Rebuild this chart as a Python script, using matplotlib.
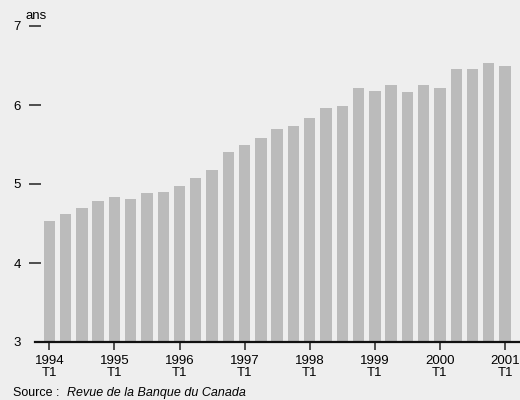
import matplotlib
matplotlib.use("Agg")
import matplotlib.pyplot as plt
import numpy as np

plt.rcParams['font.family'] = ['Liberation Sans', 'DejaVu Sans']

# quarterly values, 1994 T1 .. 2001 T1 (ans)
values = [4.53, 4.62, 4.70, 4.79,
          4.84, 4.81, 4.88, 4.90,
          4.98, 5.07, 5.18, 5.41,
          5.49, 5.58, 5.70, 5.74,
          5.83, 5.96, 5.99, 6.21,
          6.18, 6.25, 6.16, 6.25,
          6.21, 6.45, 6.45, 6.53,
          6.49]
years = ['1994', '1995', '1996', '1997', '1998', '1999', '2000', '2001']
y_ticks = [3, 4, 5, 6, 7]

bg = '#eeeeee'
bar_col = '#bbbbbb'

fig = plt.figure(figsize=(5.2, 4.0), dpi=100, facecolor=bg)
ax = fig.add_axes([35/520, 1 - 342/400, 485/520, (342 - 26)/400])
ax.set_facecolor(bg)

x = np.arange(len(values))
ax.bar(x, values, width=0.7, color=bar_col)

ax.set_ylim(3, 7)
ax.set_xlim(-0.88, 28.92)

for s in ['top', 'right', 'left']:
    ax.spines[s].set_visible(False)
ax.spines['bottom'].set_linewidth(1.6)
ax.spines['bottom'].set_color('#111111')

ax.set_yticks(y_ticks)
ax.set_yticklabels([str(v) for v in y_ticks])
ax.tick_params(axis='y', direction='inout', length=8, width=1.1, color='#222222',
               labelsize=9.5, pad=6)
# no dash at 3 (the base line stands there)
ax.yaxis.get_major_ticks()[0].tick1line.set_visible(False)

ax.set_xticks(x[::4])
ax.set_xticklabels([f'{y}\nT1' for y in years], linespacing=1.05)
ax.tick_params(axis='x', direction='out', length=6, width=1.1, color='#222222',
               labelsize=9.5, pad=3)
# keep the last label inside the picture
ax.get_xticklabels()[-1].set_horizontalalignment('center')

fig.text(26/520, 1 - 19/400, 'ans', fontsize=9.5, va='baseline', ha='left')

fig.text(13/520, 1 - 396/400, 'Source : ', fontsize=9, va='baseline', ha='left')
fig.text(67/520, 1 - 396/400, 'Revue de la Banque du Canada', fontsize=9,
         style='italic', va='baseline', ha='left')

fig.savefig('out.png', dpi=100, facecolor=bg)
